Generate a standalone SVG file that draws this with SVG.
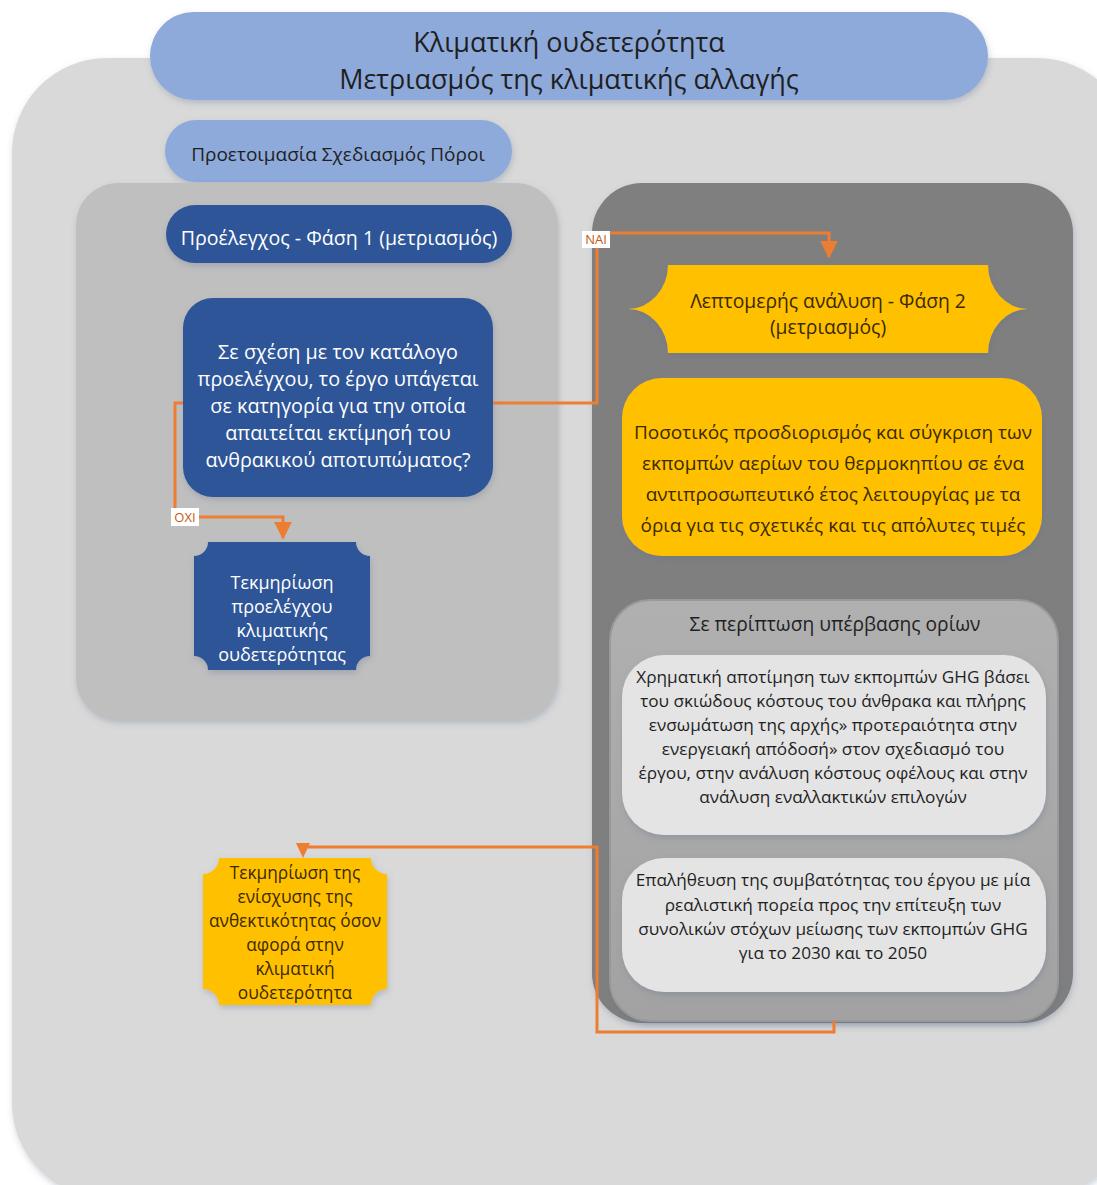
<svg xmlns="http://www.w3.org/2000/svg" width="1097" height="1185" viewBox="0 0 1097 1185">
<defs>
<filter id="sh" x="-10%" y="-10%" width="120%" height="125%">
<feDropShadow dx="1" dy="3" stdDeviation="3" flood-color="#5a6e8c" flood-opacity="0.3"/>
</filter>
<marker id="ah" viewBox="0 0 10 10" refX="9" refY="5" markerWidth="6" markerHeight="6" markerUnits="strokeWidth" orient="auto">
<path d="M0,0 L10,5 L0,10 Z" fill="#ed7d31"/>
</marker>
<linearGradient id="cg" x1="0" y1="0" x2="0" y2="1">
<stop offset="0" stop-color="#b0b0b0"/>
<stop offset="1" stop-color="#a2a2a2"/>
</linearGradient>
</defs>
<style>
text{font-family:"Open Sans","Noto Sans","DejaVu Sans",sans-serif;text-anchor:middle}
.dk{fill:#1f1f1f}
.wt{fill:#ffffff}
.ye{fill:#3a2a00}
.conn{fill:none;stroke:#ed7d31;stroke-width:3}
.lbl{font-size:13px;fill:#c55a11}
</style>
<rect width="1097" height="1185" fill="#ffffff"/>
<g id="outer">
<rect x="12" y="58" width="1120" height="1140" rx="95" fill="#d9d9d9" filter="url(#sh)"/>
</g>
<g id="title">
<rect x="150" y="12" width="838" height="88" rx="44" fill="#8eaadb" filter="url(#sh)"/>
<text x="569" y="52" font-size="27" class="dk">Κλιματική ουδετερότητα</text>
<text x="569" y="89" font-size="27" class="dk">Μετριασμός της κλιματικής αλλαγής</text>
</g>
<g id="prep">
<rect x="165" y="120" width="347" height="62" rx="31" fill="#8eaadb" filter="url(#sh)"/>
<text x="338" y="161" font-size="19" class="dk">Προετοιμασία Σχεδιασμός Πόροι</text>
</g>
<g id="left-panel">
<rect x="76" y="183" width="482" height="537" rx="42" fill="#bfbfbf" filter="url(#sh)"/>
</g>
<g id="right-panel">
<rect x="592" y="183" width="481" height="840" rx="50" fill="#7f7f7f" filter="url(#sh)"/>
</g>
<g id="phase1">
<rect x="166" y="205" width="346" height="58" rx="29" fill="#2f5597" filter="url(#sh)"/>
<text x="339" y="245" font-size="19.6" class="wt">Προέλεγχος - Φάση 1 (μετριασμός)</text>
</g>
<g id="decision">
<rect x="183" y="298" width="310" height="199" rx="30" fill="#2f5597" filter="url(#sh)"/>
<text x="338" y="359" font-size="19.8" class="wt">Σε σχέση με τον κατάλογο</text>
<text x="338" y="386" font-size="19.8" class="wt">προελέγχου, το έργο υπάγεται</text>
<text x="338" y="413" font-size="19.8" class="wt">σε κατηγορία για την οποία</text>
<text x="338" y="440" font-size="19.8" class="wt">απαιτείται εκτίμησή του</text>
<text x="338" y="467" font-size="19.8" class="wt">ανθρακικού αποτυπώματος?</text>
</g>
<g id="doc-phase1">
<path d="M208,542 H356 A14,14 0 0 0 370,556 V656 A14,14 0 0 0 356,670 H208 A14,14 0 0 0 194,656 V556 A14,14 0 0 0 208,542 Z" fill="#2f5597" filter="url(#sh)"/>
<text x="282" y="589" font-size="18" class="wt">Τεκμηρίωση</text>
<text x="282" y="613" font-size="18" class="wt">προελέγχου</text>
<text x="282" y="637" font-size="18" class="wt">κλιματικής</text>
<text x="282" y="661" font-size="18" class="wt">ουδετερότητας</text>
</g>
<g id="phase2">
<path d="M668,265 H988 A40,44 0 0 0 1028,309 A40,44 0 0 0 988,353 H668 A40,44 0 0 0 628,309 A40,44 0 0 0 668,265 Z" fill="#ffc000" filter="url(#sh)"/>
<text x="828" y="308" font-size="19.3" class="ye">Λεπτομερής ανάλυση - Φάση 2</text>
<text x="828" y="334" font-size="19.3" class="ye">(μετριασμός)</text>
</g>
<g id="quantify">
<rect x="622" y="378" width="420" height="178" rx="40" fill="#ffc000" filter="url(#sh)"/>
<text x="833" y="439" font-size="19" class="ye">Ποσοτικός προσδιορισμός και σύγκριση των</text>
<text x="833" y="470" font-size="19" class="ye">εκπομπών αερίων του θερμοκηπίου σε ένα</text>
<text x="833" y="501" font-size="19" class="ye">αντιπροσωπευτικό έτος λειτουργίας με τα</text>
<text x="833" y="532" font-size="19" class="ye">όρια για τις σχετικές και τις απόλυτες τιμές</text>
</g>
<g id="exceed">
<rect x="610" y="600" width="448" height="421" rx="40" fill="url(#cg)" stroke="#999999" stroke-width="2" filter="url(#sh)"/>
<text x="835" y="631" font-size="19.2" class="dk">Σε περίπτωση υπέρβασης ορίων</text>
</g>
<g id="monetise">
<rect x="622" y="655" width="424" height="180" rx="42" fill="#e4e4e4" filter="url(#sh)"/>
<text x="833" y="683" font-size="17.2" class="dk">Χρηματική αποτίμηση των εκπομπών GHG βάσει</text>
<text x="833" y="707" font-size="17.2" class="dk">του σκιώδους κόστους του άνθρακα και πλήρης</text>
<text x="833" y="731" font-size="17.2" class="dk">ενσωμάτωση της αρχής» προτεραιότητα στην</text>
<text x="833" y="755" font-size="17.2" class="dk">ενεργειακή απόδοσή» στον σχεδιασμό του</text>
<text x="833" y="779" font-size="17.2" class="dk">έργου, στην ανάλυση κόστους οφέλους και στην</text>
<text x="833" y="803" font-size="17.2" class="dk">ανάλυση εναλλακτικών επιλογών</text>
</g>
<g id="verify">
<rect x="622" y="858" width="424" height="134" rx="42" fill="#e4e4e4" filter="url(#sh)"/>
<text x="833" y="886" font-size="17.2" class="dk">Επαλήθευση της συμβατότητας του έργου με μία</text>
<text x="833" y="911" font-size="17.2" class="dk">ρεαλιστική πορεία προς την επίτευξη των</text>
<text x="833" y="935" font-size="17.2" class="dk">συνολικών στόχων μείωσης των εκπομπών GHG</text>
<text x="833" y="959" font-size="17.2" class="dk">για το 2030 και το 2050</text>
</g>
<g id="doc-resilience">
<path d="M219,858 H371 A16,16 0 0 0 387,874 V989 A16,16 0 0 0 371,1005 H219 A16,16 0 0 0 203,989 V874 A16,16 0 0 0 219,858 Z" fill="#ffc000" filter="url(#sh)"/>
<text x="295" y="879" font-size="17.3" class="ye">Τεκμηρίωση της</text>
<text x="295" y="903" font-size="17.3" class="ye">ενίσχυσης της</text>
<text x="295" y="927" font-size="17.3" class="ye">ανθεκτικότητας όσον</text>
<text x="295" y="951" font-size="17.3" class="ye">αφορά στην</text>
<text x="295" y="975" font-size="17.3" class="ye">κλιματική</text>
<text x="295" y="999" font-size="17.3" class="ye">ουδετερότητα</text>
</g>
<g id="connectors">
<path class="conn" d="M493,403 H597 V233 H829 V257" marker-end="url(#ah)"/>
<path class="conn" d="M183,403 H175 V517 H283 V538" marker-end="url(#ah)"/>
<path class="conn" d="M834,1021 V1032 H597 V847 H303"/>
<path d="M296,843 H310 L303,858 Z" fill="#ed7d31"/>
<rect x="582" y="231" width="28" height="17" fill="#ffffff"/>
<text x="596" y="244" class="lbl">NAI</text>
<rect x="171" y="508" width="28" height="18" fill="#ffffff"/>
<text x="185" y="522" class="lbl">OXI</text>
</g>
</svg>
